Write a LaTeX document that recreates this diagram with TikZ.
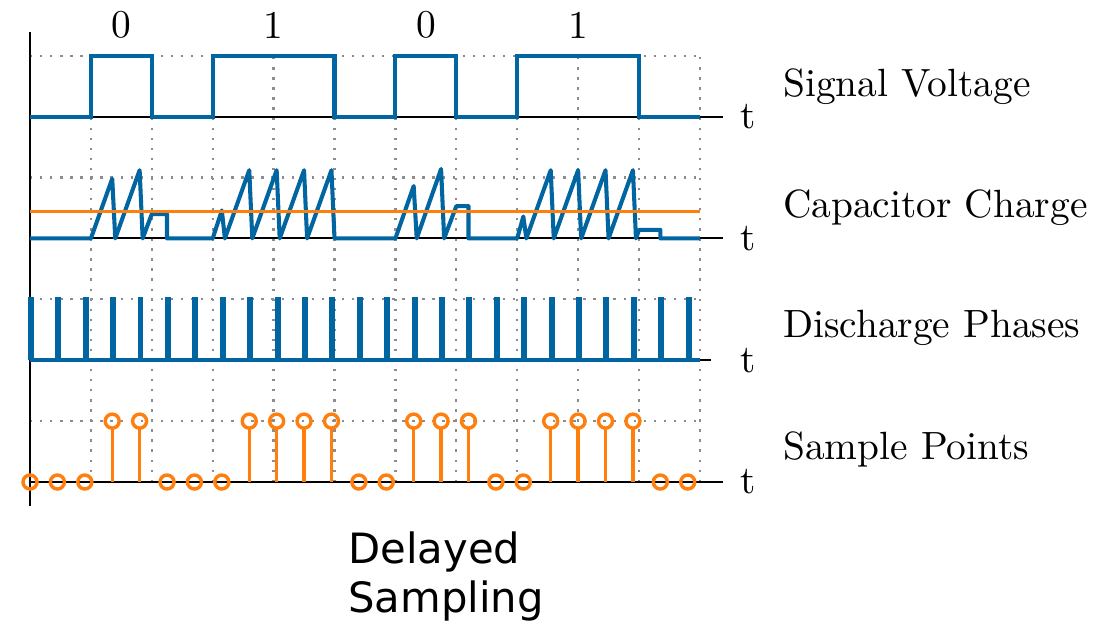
\documentclass[tikz,border=0pt]{standalone}
\usepackage{fontspec}
\newfontfamily\captionsans{DejaVu Sans}
\newfontfamily\plotserif{lmroman10-regular.otf}
\definecolor{sigblue}{RGB}{0,101,161}
\definecolor{sigorange}{RGB}{255,127,14}
\definecolor{gridgray}{RGB}{140,140,140}
\begin{document}
\begin{tikzpicture}[x=1cm,y=1cm,
  gridline/.style={gridgray, line width=1.1pt, dash pattern=on 1.1pt off 3.6pt},
  axisline/.style={black, line width=1pt},
  wave/.style={sigblue, line width=1.9pt, line join=miter},
  sawwave/.style={sigblue, line width=1.9pt, line join=round},
  thresh/.style={sigorange, line width=1.7pt},
  stem/.style={sigorange, line width=1.6pt},
  rowlabel/.style={anchor=base west, inner sep=0pt, font=\plotserif\fontsize{18.4}{22}\selectfont},
  tlabel/.style={anchor=west, inner sep=0pt, font=\plotserif\fontsize{18.4}{22}\selectfont},
  bitlabel/.style={inner sep=0pt, font=\plotserif\fontsize{18.4}{22}\selectfont},
  captext/.style={anchor=base west, inner sep=0pt, font=\captionsans\fontsize{19.5}{23.4}\selectfont}
]
\useasboundingbox (-0.4926,-2.315) rectangle (17.865,7.915);

% dotted grid
\foreach \y in {1,3,5,7} \draw[gridline] (0,\y) -- (11,\y);
\foreach \x in {1,...,11} \draw[gridline] (\x,0) -- (\x,7);

% axes
\draw[axisline] (0,-0.39) -- (0,7.39);
\draw[axisline] (0,6) -- (11.38,6);
\draw[axisline] (0,4) -- (11.38,4);
\draw[axisline] (0,2) -- (11.18,2);
\draw[axisline] (0,0) -- (11.38,0);

% signal voltage
\draw[wave] (0,6) -- (1,6) -- (1,7) -- (2,7) -- (2,6) -- (3,6) -- (3,7) -- (5,7) -- (5,6)
  -- (6,6) -- (6,7) -- (7,7) -- (7,6) -- (8,6) -- (8,7) -- (10,7) -- (10,6) -- (11,6);

% capacitor charge
\draw[sawwave] (0,4) -- (1,4) -- (1.35,4.98) -- (1.40,4) -- (1.8,5.12) -- (1.85,4)
  -- (2,4.40) -- (2.25,4.40) -- (2.25,4) -- (3,4) -- (3.15,4.46) -- (3.2,4)
  -- (3.6,5.12) -- (3.65,4) -- (4.05,5.12) -- (4.1,4) -- (4.5,5.12) -- (4.55,4)
  -- (4.95,5.12) -- (5.0,4) -- (6,4) -- (6.3,4.86) -- (6.35,4) -- (6.75,5.14) -- (6.8,4)
  -- (7,4.53) -- (7.2,4.53) -- (7.2,4) -- (8,4) -- (8.1,4.36) -- (8.15,4)
  -- (8.55,5.12) -- (8.6,4) -- (9,5.12) -- (9.05,4) -- (9.45,5.12) -- (9.5,4)
  -- (9.9,5.12) -- (9.95,4) -- (10,4.14) -- (10.35,4.14) -- (10.35,4) -- (11,4);
\draw[thresh] (0,4.44) -- (11,4.44);

% discharge phases
\draw[wave] (0,2) \foreach \k in {0,...,24} {
    -- ({0.45*\k},2) -- ({0.45*\k},3) -- ({0.45*\k+0.03},3) -- ({0.45*\k+0.03},2) }
  -- (11,2);

% sample points
\foreach \k/\v in {0/0,1/0,2/0,3/1,4/1,5/0,6/0,7/0,8/1,9/1,10/1,11/1,12/0,
                   13/0,14/1,15/1,16/1,17/0,18/0,19/1,20/1,21/1,22/1,23/0,24/0} {
  \ifnum\v=1
    \draw[stem] ({0.45*\k},0) -- ({0.45*\k},0.885);
    \draw[stem] ({0.45*\k},1) circle (0.115);
  \else
    \draw[stem] ({0.45*\k},0) circle (0.115);
  \fi
}

% bit values
\node[bitlabel] (b1) at (1.5,7.5) {0};
\node[bitlabel] (b2) at (4,7.5) {1};
\node[bitlabel] (b3) at (6.5,7.5) {0};
\node[bitlabel] (b4) at (9,7.5) {1};

% time labels
\node[tlabel] (t1) at (11.66,6) {t};
\node[tlabel] (t2) at (11.66,4) {t};
\node[tlabel] (t3) at (11.66,2) {t};
\node[tlabel] (t4) at (11.66,0) {t};

% row names
\node[rowlabel] (r1) at (12.36,6.33) {Signal Voltage};
\node[rowlabel] (r2) at (12.36,4.35) {Capacitor Charge};
\node[rowlabel] (r3) at (12.36,2.37) {Discharge Phases};
\node[rowlabel] (r4) at (12.36,0.37) {Sample Points};

% caption
\node[captext] (c1) at (5.22,-1.33) {Delayed};
\node[captext] (c2) at (5.22,-2.15) {Sampling};
\end{tikzpicture}
\end{document}
